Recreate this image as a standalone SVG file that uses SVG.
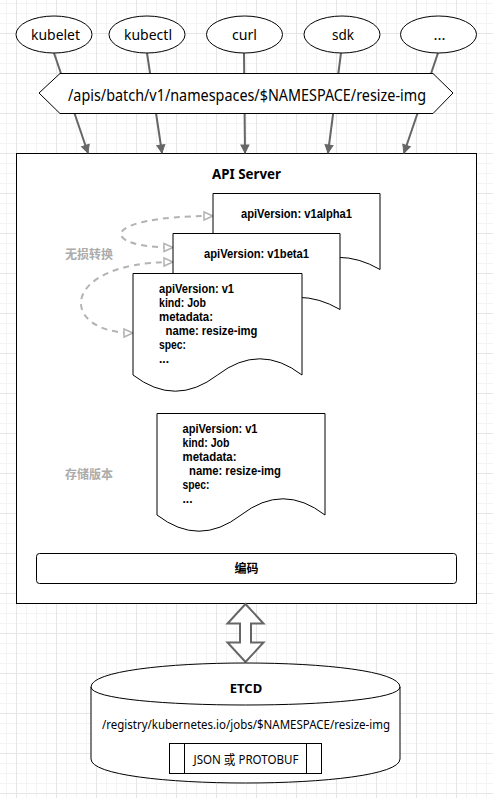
<svg xmlns="http://www.w3.org/2000/svg" width="493" height="798" viewBox="0 0 493 798">
<defs>
<style>
text{font-family:"Noto Sans","Open Sans","Noto Sans CJK SC",sans-serif;fill:#000}
.cjk{font-family:"Noto Sans CJK SC","Noto Sans",sans-serif}
.b{font-weight:bold}
.shape{fill:#fff;stroke:#000;stroke-width:1}
.client{fill:none;stroke:#666;stroke-width:2;marker-end:url(#arr)}
.conv{fill:none;stroke:#b3b3b3;stroke-width:2;stroke-dasharray:6 5;marker-start:url(#open);marker-end:url(#open)}
.gray{fill:#ababab}
.lbl{font-size:15px}
.doc{font-family:"Liberation Sans",Arial,sans-serif;font-size:12px;font-weight:bold}
</style>
<pattern id="grid" patternUnits="userSpaceOnUse" x="16" y="33" width="40" height="40">
<path d="M10.5 0V40M20.5 0V40M30.5 0V40M0 10.5H40M0 20.5H40M0 30.5H40" stroke="#f4f4f4" stroke-width="1" fill="none"/>
<path d="M0.5 0V40M0 0.5H40" stroke="#e6e6e6" stroke-width="1" fill="none"/>
</pattern>
<marker id="arr" markerUnits="userSpaceOnUse" markerWidth="10" markerHeight="10" refX="8" refY="4" orient="auto" overflow="visible">
<path d="M0,0L8,4L0,8Z" fill="#666" stroke="#666" stroke-width="1"/>
</marker>
<marker id="open" markerUnits="userSpaceOnUse" markerWidth="12" markerHeight="10" refX="9" refY="4" orient="auto-start-reverse" overflow="visible">
<path d="M0,0L9,4L0,8Z" fill="#fff" stroke="#b3b3b3" stroke-width="1.5"/>
</marker>
</defs>
<rect width="493" height="798" fill="#fff"/>
<rect width="493" height="798" fill="url(#grid)"/>

<g id="api-server">
<rect class="shape" x="16.5" y="153.5" width="460" height="450"/>
<text class="b" x="246.5" y="179" font-size="15" text-anchor="middle" textLength="69" lengthAdjust="spacingAndGlyphs">API Server</text>
</g>

<g id="connectors">
<path class="client" d="M54,53L88,153"/>
<path class="client" d="M147,53L162,153"/>
<path class="client" d="M244,53L245,153"/>
<path class="client" d="M341,53L328,153"/>
<path class="client" d="M438,53L404,153"/>
<path class="conv" d="M213,216C98,216 98,247.5 173,247.5"/>
<path class="conv" d="M173,262C58,262 58,333 133,333"/>
<polygon points="245.5,604 227.5,623.5 240,623.5 240,642.5 227.5,642.5 245.5,662 263.5,642.5 251,642.5 251,623.5 263.5,623.5" fill="#fff" stroke="#666" stroke-width="2" stroke-linejoin="miter"/>
</g>

<g id="endpoint">
<polygon class="shape" points="39,93 60,73.5 433,73.5 453,93 433,113.5 60,113.5"/>
<text x="247" y="100.5" font-size="17" text-anchor="middle" textLength="358" lengthAdjust="spacingAndGlyphs">/apis/batch/v1/namespaces/$NAMESPACE/resize-img</text>
</g>

<g id="kubelet">
<ellipse class="shape" cx="54" cy="34.5" rx="38" ry="18.5"/>
<text class="lbl" x="55.5" y="39.5" text-anchor="middle" textLength="49" lengthAdjust="spacingAndGlyphs">kubelet</text>
</g>
<g id="kubectl">
<ellipse class="shape" cx="147" cy="34.5" rx="38" ry="18.5"/>
<text class="lbl" x="148" y="39.5" text-anchor="middle" textLength="48" lengthAdjust="spacingAndGlyphs">kubectl</text>
</g>
<g id="curl">
<ellipse class="shape" cx="244.5" cy="34.5" rx="38" ry="18.5"/>
<text class="lbl" x="244.5" y="39.5" text-anchor="middle" textLength="25" lengthAdjust="spacingAndGlyphs">curl</text>
</g>
<g id="sdk">
<ellipse class="shape" cx="342" cy="34.5" rx="38" ry="18.5"/>
<text class="lbl" x="343" y="39.5" text-anchor="middle" textLength="22" lengthAdjust="spacingAndGlyphs">sdk</text>
</g>
<g id="more">
<ellipse class="shape" cx="438.5" cy="34.5" rx="38" ry="18.5"/>
<text class="lbl" x="439.5" y="39.5" text-anchor="middle">...</text>
</g>

<g id="doc-v1alpha1">
<path class="shape" d="M213,193.5H380V269.5Q338.25,245.2 296.5,269.5Q254.75,293.8 213,269.5Z"/>
<text class="doc" x="296.5" y="218" text-anchor="middle" textLength="111" lengthAdjust="spacingAndGlyphs">apiVersion: v1alpha1</text>
</g>
<g id="doc-v1beta1">
<path class="shape" d="M173,233.5H340V309.5Q298.25,285.2 256.5,309.5Q214.75,333.8 173,309.5Z"/>
<text class="doc" x="256.5" y="258" text-anchor="middle" textLength="105" lengthAdjust="spacingAndGlyphs">apiVersion: v1beta1</text>
</g>
<g id="doc-v1">
<path class="shape" d="M133,273.5H302V375Q259.75,342.6 217.5,375Q175.25,407.4 133,375Z"/>
<text class="doc" x="159" y="292.5" textLength="75" lengthAdjust="spacingAndGlyphs">apiVersion: v1</text>
<text class="doc" x="159" y="306.5" textLength="47" lengthAdjust="spacingAndGlyphs">kind: Job</text>
<text class="doc" x="159" y="320.5" textLength="54" lengthAdjust="spacingAndGlyphs">metadata:</text>
<text class="doc" x="165.5" y="334.5" textLength="92" lengthAdjust="spacingAndGlyphs">name: resize-img</text>
<text class="doc" x="159" y="348.5" textLength="27" lengthAdjust="spacingAndGlyphs">spec:</text>
<text class="doc" x="159" y="362.5">...</text>
</g>
<g id="label-convert">
<text class="cjk b gray" x="65" y="258.5" font-size="12">无损转换</text>
</g>

<g id="doc-storage">
<path class="shape" d="M157,413.5H325V515Q283,482.6 241,515Q199,547.4 157,515Z"/>
<text class="doc" x="182.5" y="432.5" textLength="75" lengthAdjust="spacingAndGlyphs">apiVersion: v1</text>
<text class="doc" x="182.5" y="446.5" textLength="47" lengthAdjust="spacingAndGlyphs">kind: Job</text>
<text class="doc" x="182.5" y="460.5" textLength="54" lengthAdjust="spacingAndGlyphs">metadata:</text>
<text class="doc" x="189" y="474.5" textLength="92" lengthAdjust="spacingAndGlyphs">name: resize-img</text>
<text class="doc" x="182.5" y="488.5" textLength="27" lengthAdjust="spacingAndGlyphs">spec:</text>
<text class="doc" x="182.5" y="502.5">...</text>
</g>
<g id="label-storage">
<text class="cjk b gray" x="65" y="478.5" font-size="12">存储版本</text>
</g>

<g id="encode">
<rect class="shape" x="36.5" y="553.5" width="420" height="30" rx="3"/>
<text class="cjk b" x="246.5" y="573" font-size="12" text-anchor="middle">编码</text>
</g>

<g id="etcd">
<path class="shape" d="M91,687C91,655 400,655 400,687V759C400,791 91,791 91,759Z"/>
<path d="M91,687C91,711 400,711 400,687" fill="none" stroke="#000" stroke-width="1"/>
<text class="b" x="246" y="692.5" font-size="13" text-anchor="middle">ETCD</text>
<text x="246" y="728.5" font-size="13" text-anchor="middle" textLength="288" lengthAdjust="spacingAndGlyphs">/registry/kubernetes.io/jobs/$NAMESPACE/resize-img</text>
<rect class="shape" x="169.5" y="743.5" width="152" height="30"/>
<path d="M184.5,743.5V773.5M306.5,743.5V773.5" stroke="#000" stroke-width="1"/>
<text x="246" y="763.5" font-size="13" text-anchor="middle" textLength="105" lengthAdjust="spacingAndGlyphs">JSON 或 PROTOBUF</text>
</g>
</svg>
